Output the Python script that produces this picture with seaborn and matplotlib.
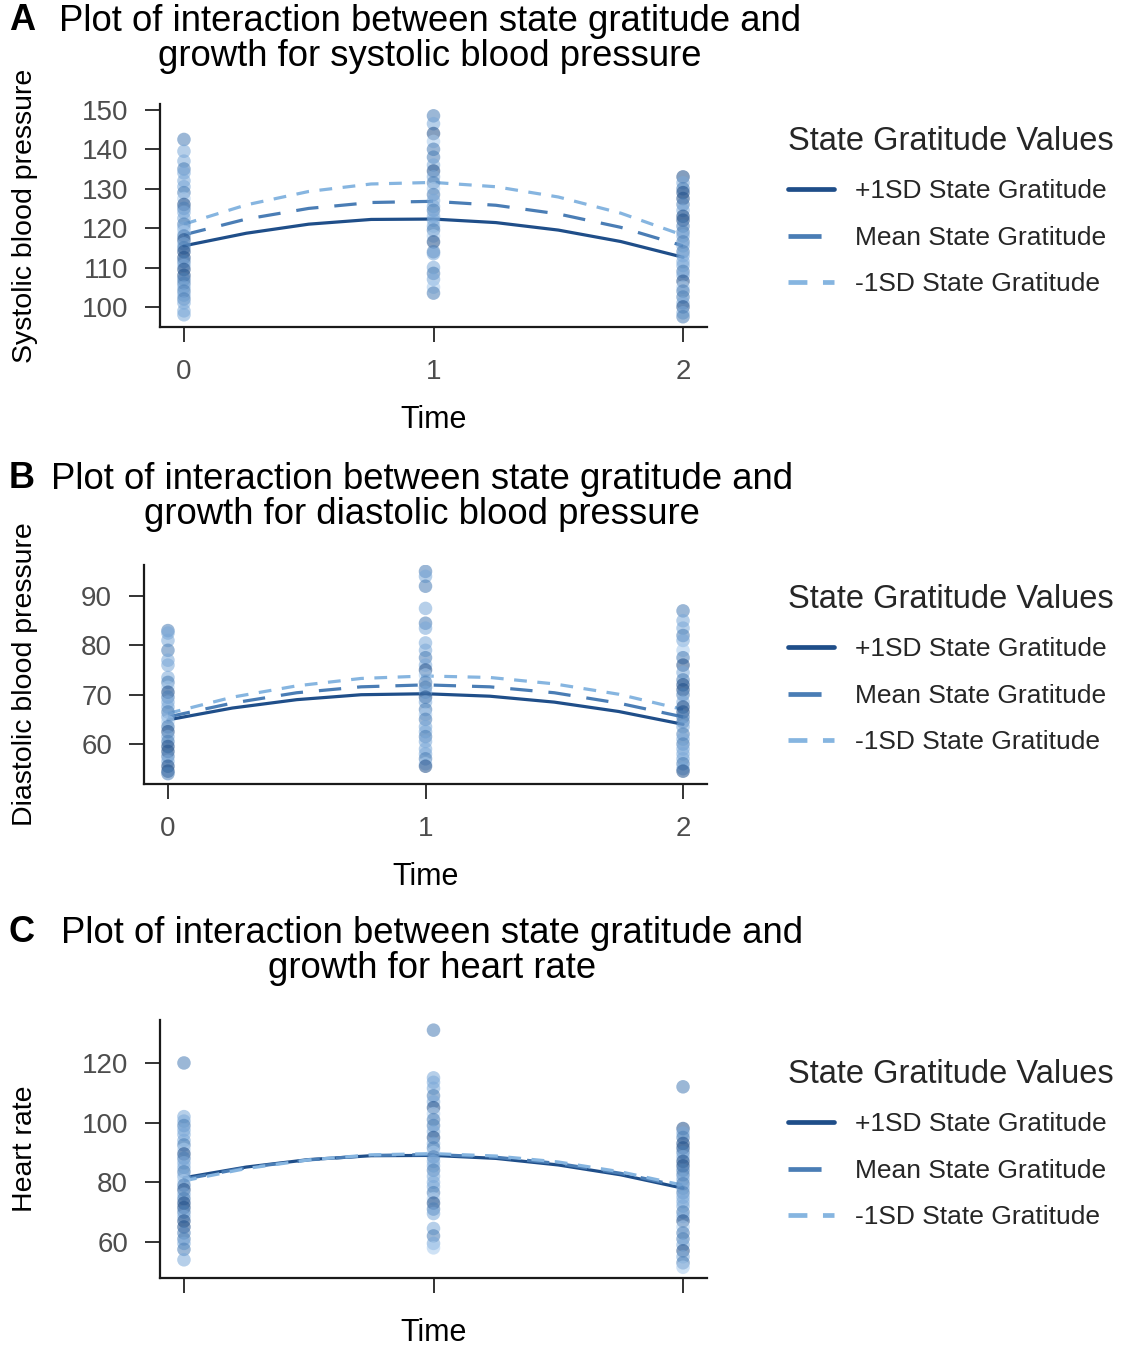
import numpy as np
import pandas as pd
import matplotlib
matplotlib.use("Agg")
import matplotlib.pyplot as plt
import seaborn as sns

sns.set_theme(style="ticks")
plt.rcParams['font.family'] = ['Liberation Sans', 'DejaVu Sans']

# ---------------- data ----------------
GROUPS = ["+1SD State Gratitude", "Mean State Gratitude", "-1SD State Gratitude"]
TIMES = [0, 0.25, 0.5, 0.75, 1, 1.25, 1.5, 1.75, 2]

# predicted lines
A_plus = [115.5, 118.7, 121.0, 122.2, 122.3, 121.4, 119.5, 116.6, 112.6]
A_mean = [118.3, 122.3, 125.0, 126.5, 126.8, 125.8, 123.6, 120.2, 115.5]
A_minus = [121.0, 125.9, 129.3, 131.2, 131.6, 130.5, 127.9, 123.8, 118.2]

B_plus = [64.9, 67.3, 69.0, 70.0, 70.2, 69.7, 68.5, 66.6, 64.0]
B_mean = [65.5, 68.3, 70.4, 71.6, 72.0, 71.6, 70.4, 68.3, 65.5]
B_minus = [66.2, 69.5, 71.8, 73.3, 73.8, 73.5, 72.2, 70.1, 67.0]

C_plus = [81.5, 85.1, 87.6, 88.9, 89.0, 88.0, 85.8, 82.5, 78.0]
C_mean = [81.0, 84.9, 87.5, 89.0, 89.3, 88.4, 86.3, 83.0, 78.5]
C_minus = [80.5, 84.6, 87.5, 89.2, 89.6, 88.8, 86.8, 83.5, 79.0]

# observed points per time
A_t0 = [142.5, 139.5, 137, 135, 134, 132, 130.5, 129, 127.5, 126, 125, 124, 122.5, 121, 120,
        119, 118, 117, 116, 115, 114, 112.5, 111.5, 110.5, 109.5, 108, 107, 106, 105, 104,
        103, 102, 101, 99, 98]
A_t1 = [148.5, 146.5, 144, 142, 140, 138, 136, 134.5, 133, 131.5, 130, 128.5, 127, 125.5,
        124.5, 123, 122, 120.5, 119.5, 118, 116.5, 114, 113.5, 110, 108.5, 107, 105, 103.5]
A_t2 = [133, 131.5, 130, 129, 127.5, 126, 124.5, 123, 122, 120.5, 119, 118, 116.5, 115.5,
        114, 113, 111.5, 110.5, 109, 108, 106.5, 105, 104, 102.5, 101, 100, 98.5, 97.5]

B_t0 = [83, 82.5, 81, 79, 77, 76, 73.5, 72.5, 71.5, 70.5, 69.5, 68.5, 67.5, 66.5, 65.5,
        64.5, 63.5, 62.5, 61.5, 60.5, 59.5, 58.5, 57.5, 56.5, 55.5, 54.5, 54]
B_t1 = [95, 94, 92, 87.5, 84.5, 83.5, 80.5, 79, 77.5, 76, 75, 74, 72.5, 71.5, 70.5, 69.5,
        68.5, 67, 66, 65, 63.5, 62.5, 61.5, 60.5, 59, 58, 57, 56, 55.5]
B_t2 = [87, 85, 83.5, 82, 81, 79, 77.5, 76, 74.5, 73, 72, 71, 70, 68.5, 67.5, 66.5, 65.5,
        64.5, 63.5, 62, 61, 60, 59, 58, 57, 56, 55, 54.5]

C_t0 = [120, 102, 100.5, 99, 97.5, 96, 94, 92.5, 91, 89.5, 88, 86.5, 85, 83.5, 82, 80.5,
        79, 77.5, 76, 74.5, 73, 71.5, 70, 68.5, 67, 65, 63, 61, 59.5, 57.5, 54]
C_t1 = [131, 115, 113.5, 111.5, 109, 107, 105, 103, 101, 99, 97, 95, 93, 91.5, 90, 88.5,
        87, 85.5, 84, 82, 80, 78.5, 76.5, 74.5, 73, 71, 69.5, 64.5, 62, 59.5, 58]
C_t2 = [112, 98, 96.5, 95, 93, 91.5, 90, 88.5, 87, 85.5, 84, 82.5, 81, 79.5, 78, 76.5, 75,
        73.5, 72, 70, 68.5, 67, 65, 63, 61, 59, 57, 55, 53, 51.5]

# gratitude shade level of each point (1 = high ... 4 = low)
SHADES = "2332333241233234213211231122323233323142231324"

# ---------------- styles ----------------
LINE_COLORS = {GROUPS[0]: "#1f4e89", GROUPS[1]: "#4a7db5", GROUPS[2]: "#86b5e0"}
DASHES = {GROUPS[0]: "", GROUPS[1]: (7, 5), GROUPS[2]: (4, 3.3)}
POINT_COLORS = {"1": "#1f4e89", "2": "#4a7db5", "3": "#7aa8d8", "4": "#a9cbed"}

W, H = 1127, 1348
fig = plt.figure(figsize=(W / 100, H / 100), dpi=100)


def box(left, top, right, bottom):
    return [left / W, 1 - bottom / H, (right - left) / W, (bottom - top) / H]


def make_panel(rect, lines, points, ylim, yticks, xlim, ylabel, show_xlabels,
               title, letter, title_x, title_y, letter_y, ylab_x, xlab_y, leg_top):
    ax = fig.add_axes(rect)
    ldf = pd.DataFrame({
        "time": TIMES * 3,
        "value": lines[0] + lines[1] + lines[2],
        "group": [GROUPS[0]] * len(TIMES) + [GROUPS[1]] * len(TIMES) + [GROUPS[2]] * len(TIMES),
    })
    sns.lineplot(data=ldf, x="time", y="value", hue="group", style="group",
                 hue_order=GROUPS, style_order=GROUPS, palette=LINE_COLORS,
                 dashes=DASHES, linewidth=2.3, ax=ax, legend=True, zorder=2)
    tt, vv, ss = [], [], []
    k = 0
    for t, vals in zip([0, 1, 2], points):
        for v in vals:
            tt.append(t)
            vv.append(v)
            ss.append(SHADES[k % len(SHADES)])
            k += 1
    pdf = pd.DataFrame({"time": tt, "value": vv, "shade": ss})
    sns.scatterplot(data=pdf, x="time", y="value", hue="shade", palette=POINT_COLORS,
                    s=95, alpha=0.55, linewidth=0, legend=False, ax=ax, zorder=3)

    ax.set_xlim(*xlim)
    ax.set_ylim(*ylim)
    ax.set_yticks(yticks)
    ax.set_xticks([0, 1, 2])
    if not show_xlabels:
        ax.set_xticklabels([])
    sns.despine(ax=ax)
    for sp in ["left", "bottom"]:
        ax.spines[sp].set_linewidth(1.6)
        ax.spines[sp].set_color("#1a1a1a")
    ax.tick_params(axis="both", length=11, width=1.4, color="#333333",
                   labelcolor="#4d4d4d", labelsize=20, pad=12)
    ax.set_xlabel("Time", fontsize=22, color="black", va="center")
    ax.xaxis.set_label_coords(0.5, xlab_y)
    ax.set_ylabel(ylabel, fontsize=20.5, color="black", va="center")
    ax.yaxis.set_label_coords(ylab_x, 0.5)

    leg = ax.get_legend()
    handles = list(leg.legend_handles)
    labels = [t.get_text() for t in leg.get_texts()]
    leg.remove()
    for h in handles:
        h.set_linewidth(3.4)
    ax.legend(handles, labels, title="State Gratitude Values", loc="upper left",
              bbox_to_anchor=(788 / W, 1 - leg_top / H), bbox_transform=fig.transFigure,
              frameon=False, fontsize=19, title_fontsize=23.5, alignment="left",
              handlelength=1.75, handletextpad=0.8, labelspacing=0.85, borderpad=0,
              borderaxespad=0)

    fig.text(title_x / W, 1 - title_y / H, title, ha="center", va="center",
             fontsize=26.3, color="black", linespacing=1.02)
    fig.text(22 / W, 1 - letter_y / H, letter, ha="center", va="center",
             fontsize=26, fontweight="bold", color="black")
    return ax


make_panel(box(160, 104, 707, 327), [A_plus, A_mean, A_minus], [A_t0, A_t1, A_t2],
           (94.9, 151.5), [100, 110, 120, 130, 140, 150], (-0.096, 2.096),
           "Systolic blood pressure", True,
           "Plot of interaction between state gratitude and\ngrowth for systolic blood pressure",
           "A", 430, 39, 20, -0.247, -0.417, 126)

make_panel(box(144, 565, 707, 784), [B_plus, B_mean, B_minus], [B_t0, B_t1, B_t2],
           (51.9, 96.3), [60, 70, 80, 90], (-0.093, 2.093),
           "Diastolic blood pressure", True,
           "Plot of interaction between state gratitude and\ngrowth for diastolic blood pressure",
           "B", 422, 497, 478, -0.211, -0.425, 584)

make_panel(box(160, 1020, 707, 1278), [C_plus, C_mean, C_minus], [C_t0, C_t1, C_t2],
           (47.9, 134.4), [60, 80, 100, 120], (-0.096, 2.096),
           "Heart rate", False,
           "Plot of interaction between state gratitude and\ngrowth for heart rate",
           "C", 432, 951, 933, -0.247, -0.213, 1059)

fig.savefig("out.png", dpi=100, facecolor="white")
